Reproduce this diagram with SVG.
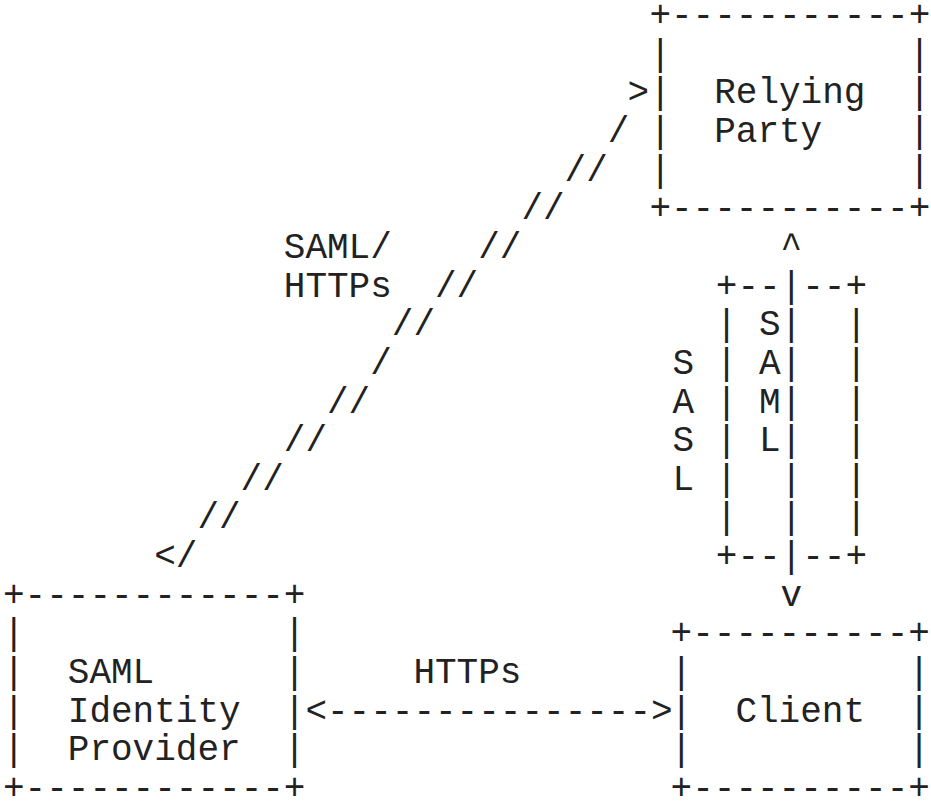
<svg xmlns="http://www.w3.org/2000/svg" width="931" height="801" viewBox="0 0 931 801" xml:space="preserve">
  <style>
    text { font-family: "Liberation Mono", "Courier New", monospace; font-size: 36px; fill: #222; white-space: pre; }
  </style>
  <rect width="931" height="801" fill="#fff"/>

  <!-- Relying Party: columns 30..42, rows 0..5 -->
  <g id="relying-party">
    <text x="649.4" y="26">+-----------+</text>
    <text x="649.4" y="64.65">|           |</text>
    <text x="649.4" y="103.3">|  Relying  |</text>
    <text x="649.4" y="141.95">|  Party    |</text>
    <text x="649.4" y="180.6">|           |</text>
    <text x="649.4" y="219.25">+-----------+</text>
  </g>

  <!-- SAML Identity Provider: columns 0..13, rows 15..20 -->
  <g id="saml-idp">
    <text x="3" y="605.75">+------------+</text>
    <text x="3" y="644.4">|            |</text>
    <text x="3" y="683.05">|  SAML      |</text>
    <text x="3" y="721.7">|  Identity  |</text>
    <text x="3" y="760.35">|  Provider  |</text>
    <text x="3" y="799">+------------+</text>
  </g>

  <!-- Client: columns 31..42, rows 16..20 -->
  <g id="client">
    <text x="670.6" y="644.4">+----------+</text>
    <text x="670.6" y="683.05">|          |</text>
    <text x="670.6" y="721.7">|  Client  |</text>
    <text x="670.6" y="760.35">|          |</text>
    <text x="670.6" y="799">+----------+</text>
  </g>

  <g id="connectors">
    <!-- SAML/HTTPs link between the identity provider and the relying party -->
    <g id="idp-rp">
      <text x="627.6" y="103.3">&gt;</text>
      <text x="607.8" y="141.95">/</text>
      <text x="564.6" y="180.6">//</text>
      <text x="521.4" y="219.25">//</text>
      <text x="478.2" y="257.9">//</text>
      <text x="435" y="296.55">//</text>
      <text x="391.8" y="335.2">//</text>
      <text x="370.2" y="373.85">/</text>
      <text x="327" y="412.5">//</text>
      <text x="283.8" y="451.15">//</text>
      <text x="240.6" y="489.8">//</text>
      <text x="197.4" y="528.45">//</text>
      <text x="154.2" y="567.1">&lt;/</text>
      <text x="283.8" y="257.9">SAML/</text>
      <text x="283.8" y="296.55">HTTPs</text>
    </g>

    <!-- HTTPs link between the identity provider and the client -->
    <g id="idp-client">
      <text x="413.4" y="683.05">HTTPs</text>
      <text x="305.4" y="721.7">&lt;---------------&gt;</text>
    </g>

    <!-- SASL channel carrying SAML between the client and the relying party -->
    <g id="client-rp">
      <text x="780.6" y="257.9">^</text>
      <text x="715.8" y="296.55">+--|--+</text>
      <text x="715.8" y="335.2">| S|  |</text>
      <text x="715.8" y="373.85">| A|  |</text>
      <text x="715.8" y="412.5">| M|  |</text>
      <text x="715.8" y="451.15">| L|  |</text>
      <text x="715.8" y="489.8">|  |  |</text>
      <text x="715.8" y="528.45">|  |  |</text>
      <text x="715.8" y="567.1">+--|--+</text>
      <text x="780.6" y="605.75">v</text>
      <text x="672.6" y="373.85">S</text>
      <text x="672.6" y="412.5">A</text>
      <text x="672.6" y="451.15">S</text>
      <text x="672.6" y="489.8">L</text>
    </g>
  </g>
</svg>
